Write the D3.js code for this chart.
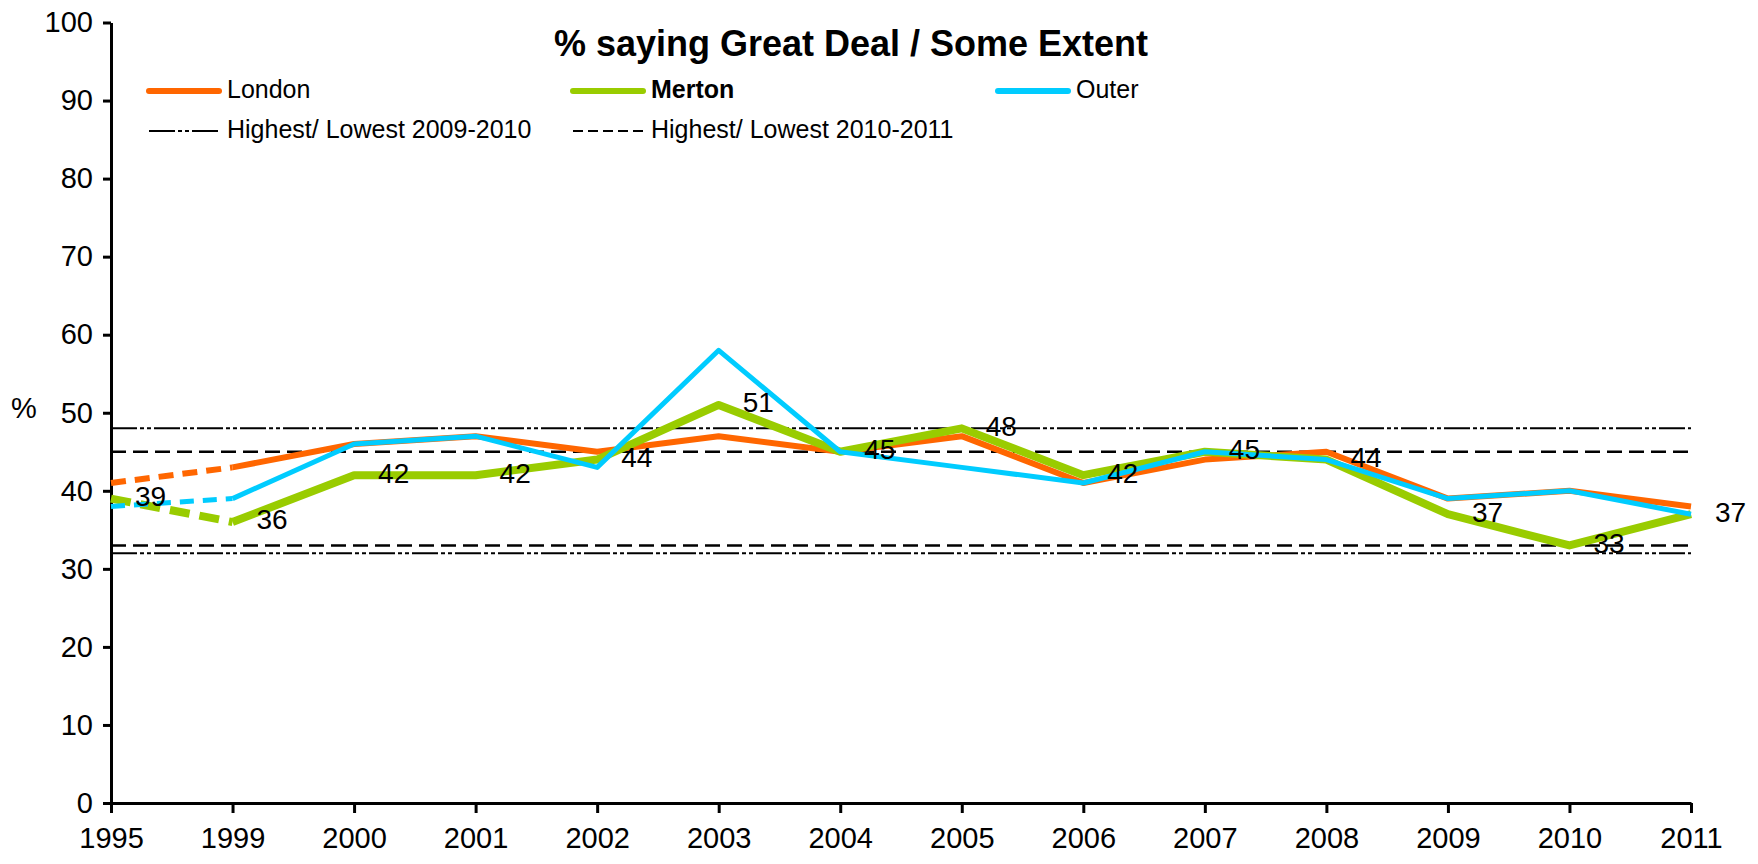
<!DOCTYPE html>
<html>
<head>
<meta charset="utf-8">
<script src="https://cdn.jsdelivr.net/npm/d3@7"></script>
<style>
  body { margin: 0; background: #fff; }
  text { font-family: "Liberation Sans", Arial, sans-serif; fill: #000; }
  .axis path, .axis line { stroke: #000; stroke-width: 3; }
  .axis text { font-size: 29px; }
</style>
</head>
<body>
<div id="chart"></div>
<script>
// categories and series
const years = ["1995", "1999", "2000", "2001", "2002", "2003", "2004", "2005", "2006", "2007", "2008", "2009", "2010", "2011"];
const london = [41, 43, 46, 47, 45, 47, 45, 47, 41, 44, 45, 39, 40, 38];
const merton = [39, 36, 42, 42, 44, 51, 45, 48, 42, 45, 44, 37, 33, 37];
const outer = [38, 39, 46, 47, 43, 58, 45, 43, 41, 45, 44, 39, 40, 37];
// reference lines
const highLow0910 = [48, 32];
const highLow1011 = [45, 33];
const yTicks = [0, 10, 20, 30, 40, 50, 60, 70, 80, 90, 100];

const width = 1758,
    height = 864,
    margin = ({ top: 22.5, right: 67, bottom: 61, left: 111 });

const svg = d3.select("#chart")
  .append("svg")
  .attr("width", width)
  .attr("height", height);

let x = d3.scalePoint()
  .domain(years)
  .range([margin.left, width - margin.right]);

let y = d3.scaleLinear()
  .domain([0, 100])
  .range([height - margin.bottom, margin.top]);

// reference lines first, so the series sit on top
const dashDot = "26,3,4,3,4,3";
const dashed = "15,7";
svg.selectAll(".ref0910")
  .data(highLow0910)
  .join("line")
  .attr("x1", margin.left).attr("x2", x("2011"))
  .attr("y1", d => y(d)).attr("y2", d => y(d))
  .attr("stroke", "#000").attr("stroke-width", 2)
  .attr("stroke-dasharray", dashDot);
svg.selectAll(".ref1011")
  .data(highLow1011)
  .join("line")
  .attr("x1", margin.left).attr("x2", x("2011"))
  .attr("y1", d => y(d)).attr("y2", d => y(d))
  .attr("stroke", "#000").attr("stroke-width", 2.5)
  .attr("stroke-dasharray", dashed);

// axes
svg.append("g")
  .attr("class", "axis")
  .attr("transform", `translate(${margin.left},0)`)
  .call(d3.axisLeft(y).tickValues(yTicks).tickSize(8).tickSizeOuter(0).tickPadding(10));

svg.append("g")
  .attr("class", "axis")
  .attr("transform", `translate(0,${height - margin.bottom})`)
  .call(d3.axisBottom(x).tickSize(10).tickSizeOuter(0).tickPadding(14));

svg.append("text")
  .attr("x", 24)
  .attr("y", y(50) - 2)
  .attr("text-anchor", "middle")
  .attr("dominant-baseline", "middle")
  .attr("font-size", 29)
  .text("%");

// series: 1995-1999 segment dashed, rest solid
const series = [
  { name: "London", values: london, color: "#FF6600", w: 6, dash: "15,9" },
  { name: "Merton", values: merton, color: "#99CC00", w: 8, dash: "20,10" },
  { name: "Outer", values: outer, color: "#00CCFF", w: 5, dash: "14,9" }
];

let line = d3.line()
  .x(d => x(d.year))
  .y(d => y(d.v));

for (let s of series) {
  let pts = years.map((yr, i) => ({ year: yr, v: s.values[i] }));
  svg.append("path")
    .datum(pts.slice(0, 2))
    .attr("d", line)
    .attr("fill", "none")
    .attr("stroke", s.color)
    .attr("stroke-width", s.w)
    .attr("stroke-dasharray", s.dash);
  svg.append("path")
    .datum(pts.slice(1))
    .attr("d", line)
    .attr("fill", "none")
    .attr("stroke", s.color)
    .attr("stroke-width", s.w)
    .attr("stroke-linejoin", "round");
}

// Merton value labels
svg.selectAll(".lbl")
  .data(years)
  .join("text")
  .attr("x", d => x(d) + 24)
  .attr("y", (d, i) => y(merton[i]))
  .attr("dominant-baseline", "middle")
  .attr("font-size", 28)
  .text((d, i) => merton[i]);

// title
svg.append("text")
  .attr("x", 851)
  .attr("y", 56)
  .attr("text-anchor", "middle")
  .attr("font-size", 36)
  .attr("font-weight", "bold")
  .text("% saying Great Deal / Some Extent");

// legend
const legendItems = [
  { label: "London", x: 149, y: 91, color: "#FF6600", w: 6, dash: null, bold: false },
  { label: "Merton", x: 573, y: 91, color: "#99CC00", w: 6, dash: null, bold: true },
  { label: "Outer", x: 998, y: 91, color: "#00CCFF", w: 6, dash: null, bold: false },
  { label: "Highest/ Lowest 2009-2010", x: 149, y: 131, color: "#000", w: 2, dash: dashDot, bold: false },
  { label: "Highest/ Lowest 2010-2011", x: 573, y: 131, color: "#000", w: 2, dash: "10,5", bold: false }
];
let lg = svg.selectAll(".legend")
  .data(legendItems)
  .join("g")
  .attr("transform", d => `translate(${d.x},${d.y})`);
lg.append("line")
  .attr("x1", 0).attr("x2", 70)
  .attr("stroke", d => d.color)
  .attr("stroke-width", d => d.w)
  .attr("stroke-linecap", d => d.dash ? "butt" : "round")
  .attr("stroke-dasharray", d => d.dash);
lg.append("text")
  .attr("x", 78)
  .attr("dominant-baseline", "middle")
  .attr("font-size", 25)
  .attr("font-weight", d => d.bold ? "bold" : "normal")
  .text(d => d.label);
</script>
</body>
</html>
